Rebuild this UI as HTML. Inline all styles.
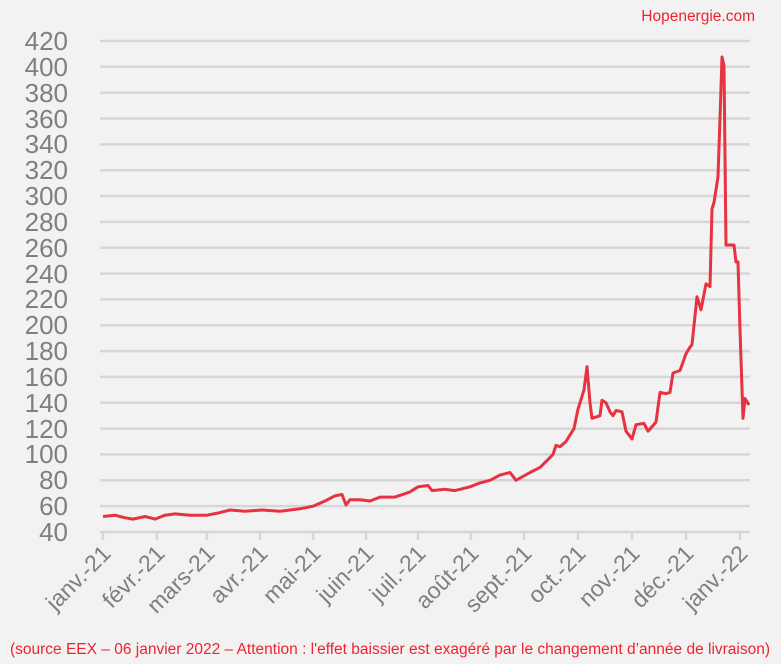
<!DOCTYPE html>
<html><head><meta charset="utf-8"><style>
html,body{margin:0;padding:0;background:#f2f2f2;}
svg{display:block;font-family:"Liberation Sans",sans-serif;}
</style></head><body>
<svg width="781" height="664" viewBox="0 0 781 664" xmlns="http://www.w3.org/2000/svg">
<rect width="781" height="664" fill="#f2f2f2"/>
<text x="755" y="21" text-anchor="end" font-size="15.5" fill="#f0232d">Hopenergie.com</text>
<g stroke="#d6d6d6" stroke-width="2.5">
<line x1="100" x2="750" y1="41" y2="41"/><line x1="100" x2="750" y1="66.8" y2="66.8"/><line x1="100" x2="750" y1="92.7" y2="92.7"/><line x1="100" x2="750" y1="118.5" y2="118.5"/><line x1="100" x2="750" y1="144.4" y2="144.4"/><line x1="100" x2="750" y1="170.2" y2="170.2"/><line x1="100" x2="750" y1="196" y2="196"/><line x1="100" x2="750" y1="221.9" y2="221.9"/><line x1="100" x2="750" y1="247.7" y2="247.7"/><line x1="100" x2="750" y1="273.6" y2="273.6"/><line x1="100" x2="750" y1="299.4" y2="299.4"/><line x1="100" x2="750" y1="325.2" y2="325.2"/><line x1="100" x2="750" y1="351.1" y2="351.1"/><line x1="100" x2="750" y1="376.9" y2="376.9"/><line x1="100" x2="750" y1="402.8" y2="402.8"/><line x1="100" x2="750" y1="428.6" y2="428.6"/><line x1="100" x2="750" y1="454.4" y2="454.4"/><line x1="100" x2="750" y1="480.3" y2="480.3"/><line x1="100" x2="750" y1="506.1" y2="506.1"/><line x1="100" x2="750" y1="532" y2="532"/>
</g>
<g stroke="#d6d6d6" stroke-width="2.5">
<line x1="103" x2="103" y1="532" y2="540"/><line x1="157" x2="157" y1="532" y2="540"/><line x1="207" x2="207" y1="532" y2="540"/><line x1="260" x2="260" y1="532" y2="540"/><line x1="313" x2="313" y1="532" y2="540"/><line x1="366" x2="366" y1="532" y2="540"/><line x1="418" x2="418" y1="532" y2="540"/><line x1="471" x2="471" y1="532" y2="540"/><line x1="524" x2="524" y1="532" y2="540"/><line x1="578" x2="578" y1="532" y2="540"/><line x1="632" x2="632" y1="532" y2="540"/><line x1="686" x2="686" y1="532" y2="540"/><line x1="740" x2="740" y1="532" y2="540"/>
</g>
<g font-size="26" fill="#7f7f7f" text-anchor="end">
<text x="68" y="50">420</text><text x="68" y="76">400</text><text x="68" y="102">380</text><text x="68" y="128">360</text><text x="68" y="153">340</text><text x="68" y="179">320</text><text x="68" y="205">300</text><text x="68" y="231">280</text><text x="68" y="257">260</text><text x="68" y="283">240</text><text x="68" y="308">220</text><text x="68" y="334">200</text><text x="68" y="360">180</text><text x="68" y="386">160</text><text x="68" y="412">140</text><text x="68" y="438">120</text><text x="68" y="463">100</text><text x="68" y="489">80</text><text x="68" y="515">60</text><text x="68" y="541">40</text>
</g>
<g font-size="23" fill="#7f7f7f" text-anchor="end">
<text transform="translate(112,555) rotate(-45)">janv.-21</text>
<text transform="translate(166,555) rotate(-45)">févr.-21</text>
<text transform="translate(216,555) rotate(-45)">mars-21</text>
<text transform="translate(269,555) rotate(-45)">avr.-21</text>
<text transform="translate(322,555) rotate(-45)">mai-21</text>
<text transform="translate(375,555) rotate(-45)">juin-21</text>
<text transform="translate(427,555) rotate(-45)">juil.-21</text>
<text transform="translate(480,555) rotate(-45)">août-21</text>
<text transform="translate(533,555) rotate(-45)">sept.-21</text>
<text transform="translate(587,555) rotate(-45)">oct.-21</text>
<text transform="translate(641,555) rotate(-45)">nov.-21</text>
<text transform="translate(695,555) rotate(-45)">déc.-21</text>
<text transform="translate(749,555) rotate(-45)">janv.-22</text>
</g>
<polyline fill="none" stroke="#e63241" stroke-width="3" stroke-linejoin="round" points="103,516.5 115,515.2 125,517.8 133,519.1 145,516.5 155,519.1 165,515.2 175,513.9 190,515.2 207,515.2 220,512.6 230,510 245,511.3 262,510 280,511.3 300,508.8 313,506.2 325,501 335,495.8 342,494.5 346,504.9 350,499.7 360,499.7 370,501 380,497.1 395,497.1 410,491.9 418,486.8 428,485.5 432,490.6 445,489.3 455,490.6 470,486.8 480,482.9 490,480.3 500,475.1 510,472.5 516,480.3 530,472.5 540,467.4 548,459.6 553,454.4 556,445.4 560,446.7 566,441.5 574,428.6 578,409.2 584,389.9 587,366.6 590,402.8 592,418.3 600,415.7 602,400.2 606,402.8 610,411.8 613,415.7 616,410.5 622,411.8 626,431.2 632,439 636,424.7 644,423.4 648,431.2 656,422.1 660,392.4 666,393.7 670,392.4 673,373 680,370.5 686,353.7 690,347.2 692,344.6 697,296.8 701,309.8 706,283.9 710,286.5 712,209 714,202.5 718,176.7 720,118.5 722,57 724,66 726,245 734,245 736,262 738,262 740,330 743,418.3 745,398.5 749,405"/>
<text x="390" y="654" text-anchor="middle" font-size="15.5" fill="#f0232d">(source EEX – 06 janvier 2022 – Attention : l'effet baissier est exagéré par le changement d’année de livraison)</text>
</svg>
</body></html>
